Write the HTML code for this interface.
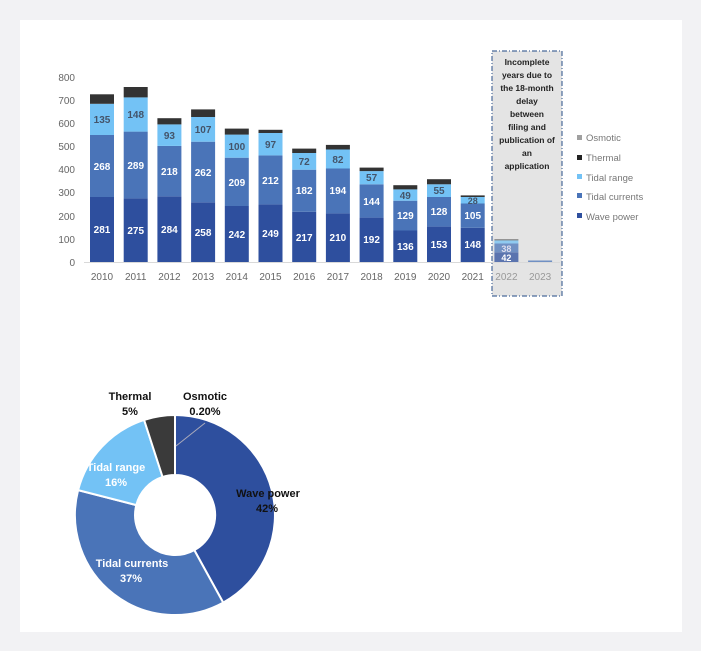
<!DOCTYPE html>
<html><head><meta charset="utf-8"><style>
html,body{margin:0;padding:0;background:#f2f2f4;}
svg{display:block;font-family:"Liberation Sans",sans-serif;}
</style></head><body>
<svg width="701" height="651" viewBox="0 0 701 651">
<rect x="0" y="0" width="701" height="651" fill="#f2f2f4"/>
<rect x="20" y="20" width="662" height="612" fill="#fff"/>
<!-- y axis labels -->
<g font-size="10" fill="#666" text-anchor="end">
<text x="75" y="81">800</text><text x="75" y="104">700</text><text x="75" y="127">600</text>
<text x="75" y="150">500</text><text x="75" y="173">400</text><text x="75" y="196">300</text>
<text x="75" y="220">200</text><text x="75" y="243">100</text><text x="75" y="266">0</text>
</g>
<!-- gray box -->
<rect x="492" y="51" width="70" height="245" fill="#e4e4e4" stroke="#4a6a9a" stroke-width="1.2" stroke-dasharray="5,2,1,2"/>
<line x1="84" y1="262.5" x2="560" y2="262.5" stroke="#d9d9d9"/>
<!-- bars -->
<g>
<rect x="90" y="197" width="24" height="65" fill="#2e4f9e"/><rect x="90" y="135" width="24" height="62" fill="#4a74b8"/><rect x="90" y="103.8" width="24" height="31.2" fill="#73c2f5"/><rect x="90" y="94.3" width="24" height="9.5" fill="#333"/>
<rect x="123.7" y="198.4" width="24" height="63.6" fill="#2e4f9e"/><rect x="123.7" y="131.6" width="24" height="66.8" fill="#4a74b8"/><rect x="123.7" y="97.4" width="24" height="34.2" fill="#73c2f5"/><rect x="123.7" y="87" width="24" height="10.4" fill="#333"/>
<rect x="157.4" y="196.3" width="24" height="65.7" fill="#2e4f9e"/><rect x="157.4" y="145.9" width="24" height="50.4" fill="#4a74b8"/><rect x="157.4" y="124.4" width="24" height="21.5" fill="#73c2f5"/><rect x="157.4" y="118.2" width="24" height="6.2" fill="#333"/>
<rect x="191.1" y="202.3" width="24" height="59.7" fill="#2e4f9e"/><rect x="191.1" y="141.7" width="24" height="60.6" fill="#4a74b8"/><rect x="191.1" y="117" width="24" height="24.7" fill="#73c2f5"/><rect x="191.1" y="109.4" width="24" height="7.6" fill="#333"/>
<rect x="224.8" y="206" width="24" height="56" fill="#2e4f9e"/><rect x="224.8" y="157.7" width="24" height="48.3" fill="#4a74b8"/><rect x="224.8" y="134.6" width="24" height="23.1" fill="#73c2f5"/><rect x="224.8" y="128.6" width="24" height="6" fill="#333"/>
<rect x="258.5" y="204.4" width="24" height="57.6" fill="#2e4f9e"/><rect x="258.5" y="155.4" width="24" height="49" fill="#4a74b8"/><rect x="258.5" y="133" width="24" height="22.4" fill="#73c2f5"/><rect x="258.5" y="129.8" width="24" height="3.2" fill="#333"/>
<rect x="292.2" y="211.8" width="24" height="50.2" fill="#2e4f9e"/><rect x="292.2" y="169.7" width="24" height="42.1" fill="#4a74b8"/><rect x="292.2" y="153" width="24" height="16.7" fill="#73c2f5"/><rect x="292.2" y="148.6" width="24" height="4.4" fill="#333"/>
<rect x="325.9" y="213.4" width="24" height="48.6" fill="#2e4f9e"/><rect x="325.9" y="168.5" width="24" height="44.9" fill="#4a74b8"/><rect x="325.9" y="149.5" width="24" height="19" fill="#73c2f5"/><rect x="325.9" y="144.9" width="24" height="4.6" fill="#333"/>
<rect x="359.6" y="217.6" width="24" height="44.4" fill="#2e4f9e"/><rect x="359.6" y="184.3" width="24" height="33.3" fill="#4a74b8"/><rect x="359.6" y="171.1" width="24" height="13.2" fill="#73c2f5"/><rect x="359.6" y="167.6" width="24" height="3.5" fill="#333"/>
<rect x="393.3" y="230.5" width="24" height="31.5" fill="#2e4f9e"/><rect x="393.3" y="200.7" width="24" height="29.8" fill="#4a74b8"/><rect x="393.3" y="189.4" width="24" height="11.3" fill="#73c2f5"/><rect x="393.3" y="185.2" width="24" height="4.2" fill="#333"/>
<rect x="427" y="226.6" width="24" height="35.4" fill="#2e4f9e"/><rect x="427" y="197" width="24" height="29.6" fill="#4a74b8"/><rect x="427" y="184.3" width="24" height="12.7" fill="#73c2f5"/><rect x="427" y="179.2" width="24" height="5.1" fill="#333"/>
<rect x="460.7" y="227.8" width="24" height="34.2" fill="#2e4f9e"/><rect x="460.7" y="203.5" width="24" height="24.3" fill="#4a74b8"/><rect x="460.7" y="197" width="24" height="6.5" fill="#73c2f5"/><rect x="460.7" y="195.4" width="24" height="1.6" fill="#333"/>
<g opacity="0.75"><rect x="494.4" y="252.3" width="24" height="9.7" fill="#2e4f9e"/><rect x="494.4" y="243.5" width="24" height="8.8" fill="#4a74b8"/><rect x="494.4" y="240.3" width="24" height="3.2" fill="#73c2f5"/><rect x="494.4" y="239.4" width="24" height="0.9" fill="#333"/>
<rect x="528.1" y="260.5" width="24" height="1.5" fill="#4a74b8"/></g>
</g>
<!-- bar labels -->
<g font-size="10" font-weight="bold" text-anchor="middle" fill="#fff">
<text x="102" y="233">281</text><text x="102" y="170">268</text>
<text x="135.7" y="234">275</text><text x="135.7" y="169">289</text>
<text x="169.4" y="233">284</text><text x="169.4" y="175">218</text>
<text x="203.1" y="236">258</text><text x="203.1" y="176">262</text>
<text x="236.8" y="238">242</text><text x="236.8" y="186">209</text>
<text x="270.5" y="237">249</text><text x="270.5" y="184">212</text>
<text x="304.2" y="241">217</text><text x="304.2" y="194">182</text>
<text x="337.9" y="241">210</text><text x="337.9" y="194">194</text>
<text x="371.6" y="243">192</text><text x="371.6" y="205">144</text>
<text x="405.3" y="250">136</text><text x="405.3" y="219">129</text>
<text x="439" y="248">153</text><text x="439" y="215">128</text>
<text x="472.7" y="248">148</text><text x="472.7" y="219">105</text>
<text x="506.4" y="261" font-size="9">42</text><text x="506.4" y="252" font-size="9" fill="#dde">38</text>
</g>
<g font-size="10" font-weight="bold" text-anchor="middle" fill="#44546a">
<text x="102" y="123">135</text><text x="135.7" y="118">148</text><text x="169.4" y="139">93</text>
<text x="203.1" y="133">107</text><text x="236.8" y="150">100</text><text x="270.5" y="148">97</text>
<text x="304.2" y="165">72</text><text x="337.9" y="163">82</text><text x="371.6" y="181">57</text>
<text x="405.3" y="199">49</text><text x="439" y="194">55</text><text x="472.7" y="204" font-size="9">28</text>
</g>
<!-- x labels -->
<g font-size="10" fill="#666" text-anchor="middle">
<text x="102" y="280">2010</text><text x="135.7" y="280">2011</text><text x="169.4" y="280">2012</text>
<text x="203.1" y="280">2013</text><text x="236.8" y="280">2014</text><text x="270.5" y="280">2015</text>
<text x="304.2" y="280">2016</text><text x="337.9" y="280">2017</text><text x="371.6" y="280">2018</text>
<text x="405.3" y="280">2019</text><text x="439" y="280">2020</text><text x="472.7" y="280">2021</text>
<text x="506.4" y="280" fill="#999">2022</text><text x="540.1" y="280" fill="#999">2023</text>
</g>
<!-- box text -->
<g font-size="8.5" font-weight="bold" fill="#222" text-anchor="middle">
<text x="527" y="65">Incomplete</text><text x="527" y="78">years due to</text><text x="527" y="91">the 18-month</text>
<text x="527" y="104">delay</text><text x="527" y="117">between</text><text x="527" y="130">filing and</text>
<text x="527" y="143">publication of</text><text x="527" y="156">an</text><text x="527" y="169">application</text>
</g>
<!-- legend -->
<g font-size="9.5" fill="#777">
<rect x="577" y="135" width="5" height="5" fill="#a0a0a0"/><text x="586" y="141">Osmotic</text>
<rect x="577" y="155" width="5" height="5" fill="#222"/><text x="586" y="161">Thermal</text>
<rect x="577" y="174" width="5" height="5" fill="#73c2f5"/><text x="586" y="181">Tidal range</text>
<rect x="577" y="193" width="5" height="5" fill="#4a74b8"/><text x="586" y="200">Tidal currents</text>
<rect x="577" y="213" width="5" height="5" fill="#2e4f9e"/><text x="586" y="220">Wave power</text>
</g>
<!-- donut -->
<g stroke="#fff" stroke-width="2">
<path d="M175,415 A100,100 0 0 1 223.2,602.6 L194.3,550.1 A40,40 0 0 0 175,475 Z" fill="#2e4f9e"/>
<path d="M223.2,602.6 A100,100 0 0 1 78.1,490.1 L136.3,505.1 A40,40 0 0 0 194.3,550.1 Z" fill="#4a74b8"/>
<path d="M78.1,490.1 A100,100 0 0 1 144.1,419.9 L162.6,477 A40,40 0 0 0 136.3,505.1 Z" fill="#73c2f5"/>
<path d="M144.1,419.9 A100,100 0 0 1 175,415 L175,475 A40,40 0 0 0 162.6,477 Z" fill="#3a3a3a"/>
</g>
<line x1="176" y1="446" x2="205" y2="423" stroke="#aab" stroke-width="1"/>
<g font-size="11" font-weight="bold" text-anchor="middle">
<text x="130" y="400" fill="#111">Thermal</text><text x="130" y="415" fill="#111">5%</text>
<text x="205" y="400" fill="#111">Osmotic</text><text x="205" y="415" fill="#111">0.20%</text>
<text x="268" y="497" fill="#111">Wave power</text><text x="267" y="512" fill="#111">42%</text>
<text x="116" y="471" fill="#fff">Tidal  range</text><text x="116" y="486" fill="#fff">16%</text>
<text x="132" y="567" fill="#fff">Tidal currents</text><text x="131" y="582" fill="#fff">37%</text>
</g>
</svg>
</body></html>
